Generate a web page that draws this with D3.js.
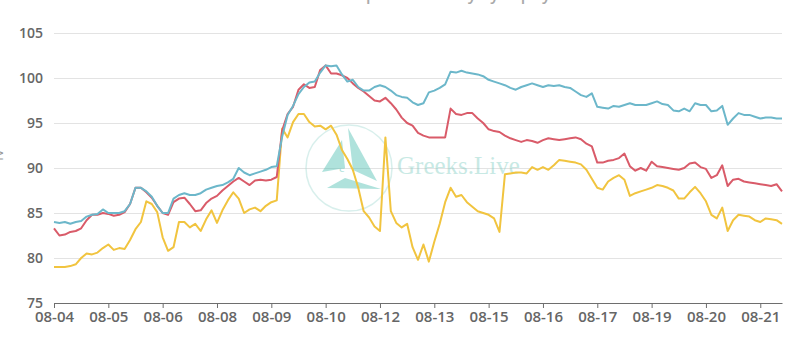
<!DOCTYPE html>
<html>
<head>
<meta charset="utf-8">
<script src="https://cdn.jsdelivr.net/npm/d3@7"></script>
<style>
  body { margin: 0; background: #fff; }
  svg { display: block; }
  .axis text { font-family: "Open Sans", sans-serif; font-weight: 600; fill: #666; }
</style>
</head>
<body>
<div id="chart"></div>
<script>
// Tick labels on the x axis (one every 10 points)
const dateLabels = ["08-04", "08-05", "08-06", "08-08", "08-09", "08-10", "08-12",
  "08-13", "08-15", "08-16", "08-17", "08-19", "08-20", "08-21"];
const yTicks = [75, 80, 85, 90, 95, 100, 105];

// Three series
const blueValues = [
  84.0, 83.9, 84.0, 83.8, 84.0, 84.1, 84.6, 84.8, 84.9, 85.4,
  85.0, 85.0, 85.0, 85.2, 86.0, 87.8, 87.8, 87.4, 86.8, 85.8,
  85.0, 85.0, 86.6, 87.0, 87.2, 87.0, 87.0, 87.2, 87.6, 87.8,
  88.0, 88.1, 88.4, 88.8, 90.0, 89.5, 89.2, 89.4, 89.6, 89.8,
  90.1, 90.2, 93.5, 95.9, 96.9, 98.2, 99.0, 99.5, 99.6, 100.6,
  101.4, 101.3, 101.4, 100.4, 99.6, 99.8, 99.0, 98.6, 98.6, 99.0,
  99.2, 99.0, 98.6, 98.1, 97.9, 97.8, 97.3, 97.0, 97.2, 98.4,
  98.6, 98.9, 99.3, 100.7, 100.6, 100.8, 100.6, 100.5, 100.4, 100.2,
  99.8, 99.6, 99.4, 99.2, 98.9, 98.7, 99.0, 99.2, 99.4, 99.2,
  99.0, 99.2, 99.1, 99.2, 99.0, 98.9, 98.5, 98.1, 97.9, 98.3,
  96.8, 96.7, 96.6, 96.9, 96.8, 97.0, 97.2, 97.0, 97.0, 97.0,
  97.2, 97.4, 97.1, 97.0, 96.4, 96.3, 96.6, 96.3, 97.2, 97.0,
  97.0, 96.3, 96.4, 96.9, 94.8, 95.5, 96.1, 95.9, 95.9, 95.7,
  95.5, 95.6, 95.6, 95.5, 95.5
];
const redValues = [
  83.3, 82.5, 82.6, 82.9, 83.0, 83.3, 84.2, 84.8, 84.8, 85.0,
  84.9, 84.7, 84.8, 85.1, 86.0, 87.8, 87.8, 87.3, 86.7, 85.8,
  85.0, 84.8, 86.2, 86.6, 86.7, 86.0, 85.2, 85.3, 86.1, 86.6,
  86.9, 87.5, 88.0, 88.5, 88.9, 88.5, 88.1, 88.6, 88.7, 88.6,
  88.7, 89.0, 94.2, 96.0, 96.8, 98.7, 99.3, 98.9, 99.0, 100.9,
  101.4, 100.5, 100.5, 100.3, 100.0, 99.4, 98.9, 98.5, 98.0, 97.5,
  97.4, 97.8, 97.2, 96.5, 95.6, 95.0, 94.7, 93.9, 93.6, 93.4,
  93.4, 93.4, 93.4, 96.6, 96.0, 95.9, 96.1, 96.1, 95.5, 95.0,
  94.3, 94.1, 94.0, 93.6, 93.3, 93.1, 92.9, 93.1, 93.0, 92.8,
  93.1, 93.3, 93.2, 93.1, 93.2, 93.3, 93.4, 93.2, 92.7, 92.4,
  90.6, 90.6, 90.8, 90.9, 91.1, 91.6, 90.2, 89.7, 90.0, 89.7,
  90.7, 90.2, 90.1, 90.0, 89.9, 89.8, 90.0, 90.5, 90.6, 90.1,
  89.9, 88.9, 89.2, 90.3, 88.0, 88.7, 88.8, 88.5, 88.4, 88.3,
  88.2, 88.1, 88.0, 88.2, 87.4
];
const yellowValues = [
  79.0, 79.0, 79.0, 79.1, 79.3, 80.0, 80.5, 80.4, 80.6, 81.1,
  81.5, 80.9, 81.1, 81.0, 82.0, 83.2, 84.0, 86.3, 86.0, 85.1,
  82.3, 80.8, 81.2, 84.0, 84.0, 83.4, 83.8, 83.0, 84.3, 85.3,
  83.9, 85.3, 86.4, 87.3, 86.6, 85.0, 85.4, 85.6, 85.2, 85.8,
  86.2, 86.4, 94.4, 93.4, 95.1, 96.0, 96.0, 95.1, 94.6, 94.7,
  94.3, 94.7, 93.7, 92.0, 91.0, 89.8, 87.8, 85.2, 84.5, 83.5,
  83.0, 93.4, 85.2, 83.9, 83.4, 83.8, 81.2, 79.8, 81.5, 79.6,
  81.8, 83.8, 86.2, 87.8, 86.8, 87.0, 86.2, 85.7, 85.2, 85.0,
  84.8, 84.4, 82.9, 89.3, 89.4, 89.5, 89.5, 89.4, 90.1, 89.8,
  90.1, 89.8, 90.3, 90.9, 90.8, 90.7, 90.6, 90.4, 89.8, 88.8,
  87.8, 87.6, 88.5, 88.9, 89.2, 88.7, 86.9, 87.2, 87.4, 87.6,
  87.8, 88.1, 88.0, 87.8, 87.5, 86.6, 86.6, 87.3, 87.9, 87.2,
  86.3, 84.8, 84.4, 85.6, 83.0, 84.2, 84.8, 84.7, 84.6, 84.2,
  84.0, 84.4, 84.3, 84.2, 83.8
];

const W = 792, H = 344;
const margin = { top: 33, right: 10, bottom: 41, left: 54 };

const svg = d3.select("#chart").append("svg")
  .attr("width", W)
  .attr("height", H);

// title, almost fully cut off at the top edge
svg.append("text")
  .attr("x", 412).attr("y", 0)
  .attr("text-anchor", "middle")
  .style("font-family", "Open Sans, sans-serif")
  .style("font-size", "16px")
  .style("font-weight", 600)
  .style("fill", "#aaa")
  .text("BTC ATM Implied Volatility by Expiry");

// axis name, mostly off the left edge
svg.append("text")
  .attr("transform", "translate(3,155) rotate(-90)")
  .attr("text-anchor", "middle")
  .style("font-family", "Open Sans, sans-serif")
  .style("font-size", "13px")
  .style("fill", "#999")
  .text("IV");

const n = blueValues.length;
const x = d3.scaleLinear().domain([0, n - 1]).range([margin.left, W - margin.right]);
const y = d3.scaleLinear().domain([75, 105]).range([H - margin.bottom, margin.top]);

// grid lines + y labels
const yAxis = d3.axisLeft(y)
  .tickValues(yTicks)
  .tickSize(-(W - margin.left - margin.right))
  .tickPadding(11);

const gy = svg.append("g")
  .attr("class", "axis")
  .attr("transform", `translate(${margin.left},0)`)
  .call(yAxis);
gy.select(".domain").remove();
gy.selectAll("line").attr("stroke", "#e3e3e3");
gy.selectAll("text").style("font-size", "14px").attr("dy", "0.3em");

// watermark
const wm = svg.append("g").attr("opacity", 0.45);
wm.append("circle")
  .attr("cx", 349).attr("cy", 168).attr("r", 43)
  .attr("fill", "none")
  .attr("stroke", "#a9ddd6")
  .attr("stroke-width", 1.5);
const tri = [
  [[322, 172], [342, 140], [345, 168]],
  [[348, 128], [377, 181], [353, 170]],
  [[327, 188], [381, 189], [345, 178]]
];
wm.selectAll("polygon")
  .data(tri)
  .enter().append("polygon")
  .attr("points", d => d.map(p => p.join(",")).join(" "))
  .attr("fill", "#4fbfb2");
wm.append("text")
  .attr("x", 339).attr("y", 172)
  .style("font-family", "Liberation Serif, serif")
  .style("font-size", "13px")
  .style("fill", "#4fbfb2")
  .text("e");
wm.append("text")
  .attr("x", 397).attr("y", 174)
  .style("font-family", "Liberation Serif, serif")
  .style("font-size", "25px")
  .style("fill", "#86cfc5")
  .text("Greeks.Live");

// x axis
const xAxis = d3.axisBottom(x)
  .tickValues(d3.range(0, n, 10))
  .tickFormat((d, i) => dateLabels[i])
  .tickSizeInner(5)
  .tickSizeOuter(0)
  .tickPadding(3);

const gx = svg.append("g")
  .attr("class", "axis")
  .attr("transform", `translate(0,${H - margin.bottom})`)
  .call(xAxis);
gx.select(".domain").attr("stroke", "#6e6e6e");
gx.selectAll("line").attr("stroke", "#6e6e6e");
gx.selectAll("text").style("font-size", "15px");

// lines
const line = d3.line()
  .x((d, i) => x(i))
  .y(d => y(d));

const series = [
  { values: yellowValues, color: "#f1c43f" },
  { values: redValues, color: "#d95b69" },
  { values: blueValues, color: "#6cb7ca" }
];

svg.selectAll(".series")
  .data(series)
  .enter().append("path")
  .attr("class", "series")
  .attr("d", d => line(d.values))
  .attr("fill", "none")
  .attr("stroke", d => d.color)
  .attr("stroke-width", 2)
  .attr("stroke-linejoin", "round");
</script>
</body>
</html>
